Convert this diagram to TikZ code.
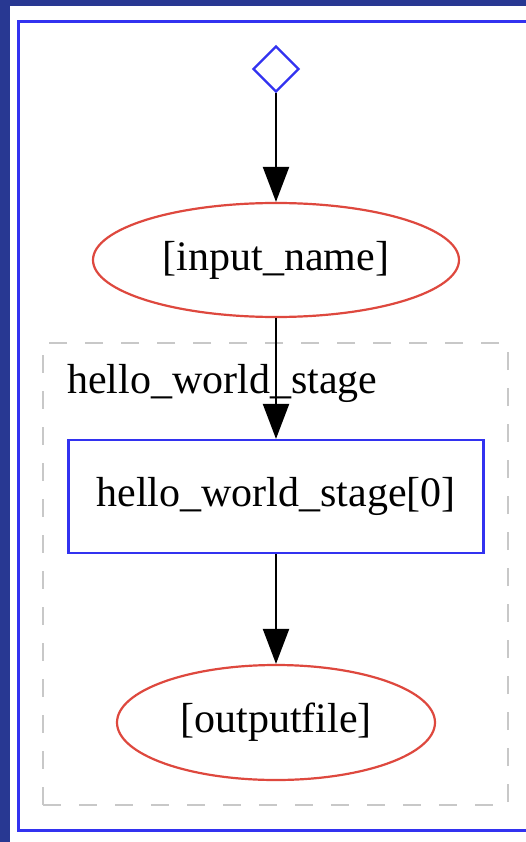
\documentclass[tikz,border=0pt]{standalone}
\usepackage{fontspec}
\setmainfont{Liberation Serif}
\usetikzlibrary{shapes.geometric,arrows.meta}
\definecolor{pagebg}{RGB}{40,56,146}
\definecolor{frameblue}{RGB}{50,50,240}
\definecolor{datared}{RGB}{222,72,62}
\definecolor{clustergray}{RGB}{200,200,200}
\tikzset{
  every node/.style={font=\fontsize{42}{50}\selectfont},
  datanode/.style={ellipse,draw=datared,line width=2.2pt,inner sep=0pt},
  stagenode/.style={rectangle,draw=frameblue,line width=2.2pt,inner sep=0pt},
  startnode/.style={diamond,draw=frameblue,line width=2.2pt,inner sep=0pt,minimum width=46pt,minimum height=46pt},
  clusterbox/.style={rectangle,draw=clustergray,line width=2.5pt,dash pattern=on 18pt off 18pt,inner sep=0pt},
  flow/.style={draw=black,line width=2.2pt,-{Triangle[length=35pt,width=26pt]}}
}
\begin{document}
\begin{tikzpicture}[x=1pt,y=-1pt]
  \useasboundingbox (0,0) rectangle (526,842);
  % page background and white canvas
  \fill[pagebg] (0,0) rectangle (526,842);
  \fill[white] (10,6) rectangle (526,842);
  % outer frame, open on the right
  \draw[frameblue,line width=3pt] (530,22) -- (18,22) -- (18,830) -- (530,830);

  % cluster
  \node[clusterbox,minimum width=465pt,minimum height=462pt] (cluster) at (275.5,574) {};
  \node[anchor=base west,inner sep=0pt] (clusterlabel) at (67,393) {hello\_world\_stage};

  % nodes
  \node[startnode] (start) at (276,69) {};
  \node[datanode,minimum width=366pt,minimum height=114pt] (input) at (276,260) {[input\_name]};
  \node[stagenode,minimum width=415pt,minimum height=113pt] (stage) at (276,496.5) {hello\_world\_stage[0]};
  \node[datanode,minimum width=318pt,minimum height=115pt] (output) at (276,722.5) {[outputfile]};

  % connectors
  \draw[flow] (start.south) -- (input.north);
  \draw[flow] (input.south) -- (stage.north);
  \draw[flow] (stage.south) -- (output.north);
\end{tikzpicture}
\end{document}
